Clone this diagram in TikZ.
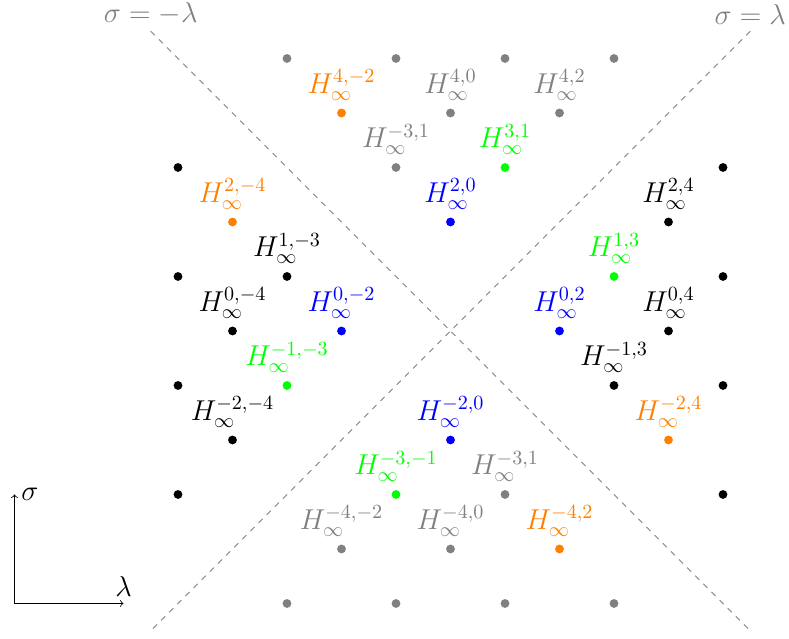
\documentclass[tikz,border=0pt]{standalone}
\usepackage{fix-cm}
\usetikzlibrary{positioning}
\begin{document}
\begin{tikzpicture}[
  every node/.style={font=\fontsize{15}{18}\selectfont},
  dot/.style={circle, fill, inner sep=0pt, minimum size=4.6pt},
  lbl/.style={inner sep=5pt},
  dline/.style={gray, dashed, thin},
  axis/.style={->, thin}
]
\useasboundingbox (-8.266,-5.651) rectangle (6.211,6.073);

% dashed diagonals
\coordinate (a1) at (-5.5,5.5);
\coordinate (a2) at (5.5,-5.5);
\coordinate (b1) at (5.5,5.5);
\coordinate (b2) at (-5.5,-5.5);
\draw[dline] (a1) -- (a2);
\draw[dline] (b1) -- (b2);
\node[above, gray] (la) at (a1) {$\sigma=-\lambda$};
\node[above, gray] (lb) at (b1) {$\sigma=\lambda$};

% unlabeled dots
\foreach \x/\y/\c in {-5/3/black,-5/1/black,-5/-1/black,-5/-3/black,
                      5/3/black,5/1/black,5/-1/black,5/-3/black,
                      -3/5/gray,-1/5/gray,1/5/gray,3/5/gray,
                      -3/-5/gray,-1/-5/gray,1/-5/gray,3/-5/gray}
  \node[dot, \c] (u\x s\y) at (\x,\y) {};

% labeled dots
\foreach \x/\y/\c/\tx in {
  -2/4/orange/{4,-2}, 0/4/gray/{4,0}, 2/4/gray/{4,2},
  -1/3/gray/{-3,1}, 1/3/green/{3,1},
  0/2/blue/{2,0}, -4/2/orange/{2,-4}, 4/2/black/{2,4},
  -3/1/black/{1,-3}, 3/1/green/{1,3},
  -4/0/black/{0,-4}, -2/0/blue/{0,-2}, 2/0/blue/{0,2}, 4/0/black/{0,4},
  -3/-1/green/{-1,-3}, 3/-1/black/{-1,3},
  -4/-2/black/{-2,-4}, 0/-2/blue/{-2,0}, 4/-2/orange/{-2,4},
  -1/-3/green/{-3,-1}, 1/-3/gray/{-3,1},
  -2/-4/gray/{-4,-2}, 0/-4/gray/{-4,0}, 2/-4/orange/{-4,2}}
{
  \node[dot, \c] (d\x s\y) at (\x,\y) {};
  \node[lbl, text=\c, above=-1pt of d\x s\y] (t\x s\y) {$H^{\tx}_{\infty}$};
}

% axes
\coordinate (o) at (-8,-5);
\coordinate (ys) at (-8,-3);
\coordinate (xl) at (-6,-5);
\draw[axis] (o) -- (ys);
\draw[axis] (o) -- (xl);
\node[right] (sig) at (ys) {$\sigma$};
\node[above] (lam) at (xl) {$\lambda$};
\end{tikzpicture}
\end{document}
